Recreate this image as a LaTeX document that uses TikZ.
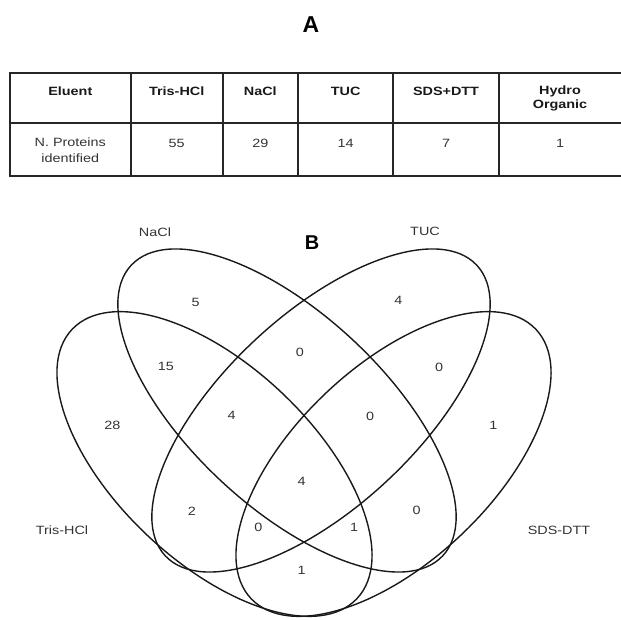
\documentclass[tikz,border=0pt]{standalone}
\usepackage{fontspec}
\setmainfont{Liberation Sans}
\newfontfamily\wsans[FakeStretch=1.2]{Liberation Sans}
\tikzset{
  tabline/.style={line width=1.8pt, draw=black!85},
  tabhead/.style={font=\wsans\bfseries\fontsize{12}{14}\selectfont, align=center, inner sep=0pt, text=black!90},
  tabcell/.style={font=\wsans\fontsize{12}{16}\selectfont, align=center, inner sep=0pt, text=black!80},
  vennline/.style={line width=1.4pt, draw=black!90},
  vnum/.style={font=\wsans\fontsize{12}{14}\selectfont, inner sep=0pt, text=black!80},
  vcat/.style={font=\wsans\fontsize{12}{14}\selectfont, inner sep=0pt, text=black!80},
  panel/.style={font=\bfseries\fontsize{23}{26}\selectfont, inner sep=0pt, text=black}
}
\begin{document}
\begin{tikzpicture}[x=1pt,y=1pt]
\useasboundingbox (0,0) rectangle (621,620);
\clip (0,0) rectangle (621,620);
% Panel letters
\node[panel] (A) at (311,595) {A};
\node[panel,font=\bfseries\fontsize{20}{24}\selectfont] (B) at (312,377) {B};
% Table
\draw[tabline] (10,547.3) -- (622,547.3);
\draw[tabline] (10,497) -- (622,497);
\draw[tabline] (10,444.3) -- (622,444.3);
\foreach \xx in {10,130.7,222.7,298,393.3,499}{
  \draw[tabline] (\xx,548.2) -- (\xx,443.4);
}
\node[tabhead] (h1) at (70.3,529) {Eluent};
\node[tabhead] (h2) at (176.7,529) {Tris-HCl};
\node[tabhead] (h3) at (260.3,529) {NaCl};
\node[tabhead] (h4) at (345.7,529) {TUC};
\node[tabhead] (h5) at (446,529) {SDS+DTT};
\node[tabhead] (h6) at (560,522) {Hydro\\Organic};
\node[tabcell] (c1) at (70.3,470) {N. Proteins\\identified};
\node[tabcell] (c2) at (176.7,477) {55};
\node[tabcell] (c3) at (260.3,477) {29};
\node[tabcell] (c4) at (345.7,477) {14};
\node[tabcell] (c5) at (446,477) {7};
\node[tabcell] (c6) at (560,477) {1};
% Venn ellipses
\draw[vennline] (214.5,156) ellipse [x radius=196pt, y radius=98pt, rotate=-43.4];
\draw[vennline] (393.5,156) ellipse [x radius=196pt, y radius=98pt, rotate=43.4];
\draw[vennline] (287,209.5) ellipse [x radius=213pt, y radius=96.5pt, rotate=-43];
\draw[vennline] (321,209.5) ellipse [x radius=213pt, y radius=96.5pt, rotate=43];
% Category labels
\node[vcat] (lnacl) at (155,387.3) {NaCl};
\node[vcat] (ltuc) at (425,388.3) {TUC};
\node[vcat] (ltris) at (62,90) {Tris-HCl};
\node[vcat] (lsds) at (559,90) {SDS-DTT};
% Region counts
\node[vnum] (n1) at (195.7,318) {5};
\node[vnum] (n2) at (300,267.3) {0};
\node[vnum] (n3) at (398.3,320) {4};
\node[vnum] (n4) at (166,253.3) {15};
\node[vnum] (n5) at (231.7,205) {4};
\node[vnum] (n6) at (370,204) {0};
\node[vnum] (n7) at (439,252.3) {0};
\node[vnum] (n8) at (112.3,195) {28};
\node[vnum] (n9) at (301.7,139) {4};
\node[vnum] (n10) at (192,108.7) {2};
\node[vnum] (n11) at (258.3,92.2) {0};
\node[vnum] (n12) at (354,92.2) {1};
\node[vnum] (n13) at (416.7,110) {0};
\node[vnum] (n14) at (493.3,195) {1};
\node[vnum] (n15) at (301.7,49.3) {1};
\end{tikzpicture}
\end{document}
